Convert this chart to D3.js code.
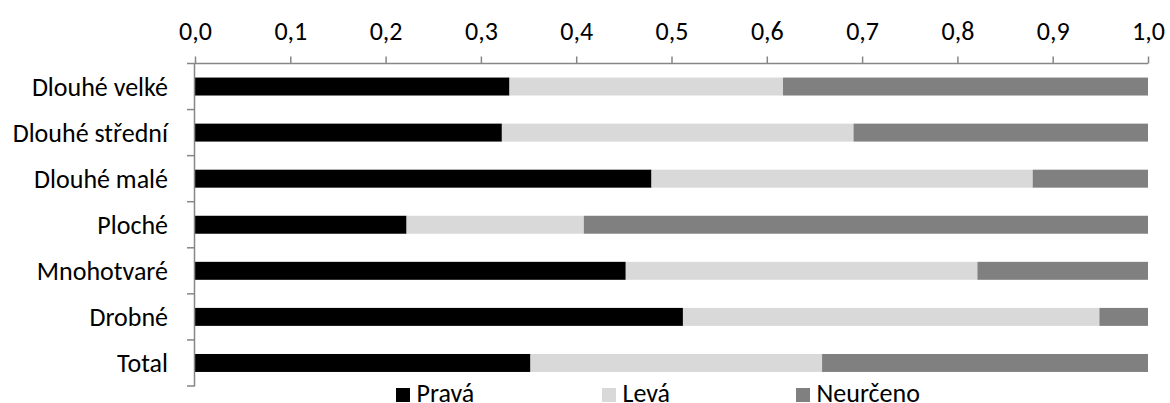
<!DOCTYPE html>
<html><head><meta charset="utf-8">
<script src="https://cdn.jsdelivr.net/npm/d3@7"></script>
<style>body{margin:0;background:#fff}svg{display:block}text{font-family:Carlito,Calibri,"Open Sans",sans-serif;fill:#000}</style>
</head><body><svg id="c" width="1170" height="403"></svg>
<script>
const categories = ["Dlouhé velké","Dlouhé střední","Dlouhé malé","Ploché","Mnohotvaré","Drobné","Total"];
const seriesNames = ["Pravá","Levá","Neurčeno"];
const prava =    [0.330, 0.322, 0.479, 0.222, 0.452, 0.512, 0.352];
const leva =     [0.287, 0.369, 0.400, 0.186, 0.369, 0.437, 0.306];
const neurceno = [0.383, 0.309, 0.121, 0.592, 0.179, 0.051, 0.342];
const xTicks = [0,0.1,0.2,0.3,0.4,0.5,0.6,0.7,0.8,0.9,1.0];
const colors = ["#000000","#d9d9d9","#808080"];

const rows = categories.map((c,i)=>({cat:c,"Pravá":prava[i],"Levá":leva[i],"Neurčeno":neurceno[i]}));
const stack = d3.stack().keys(seriesNames)(rows);

const svg = d3.select("#c");
const pLeft = 195, pRight = 1148, pTop = 63.5, pBottom = 386;
const fs = 26;
const x = d3.scaleLinear().domain([0,1]).range([pLeft,pRight]);
const y = d3.scaleBand().domain(categories).range([pTop,pBottom]).paddingInner(0.61).paddingOuter(0.305);
const color = d3.scaleOrdinal().domain(seriesNames).range(colors);

svg.append("g").selectAll("g").data(stack).join("g").attr("fill",d=>color(d.key))
  .selectAll("rect").data(d=>d).join("rect")
  .attr("x",d=>x(d[0])).attr("width",d=>x(d[1])-x(d[0]))
  .attr("y",d=>y(d.data.cat)).attr("height",y.bandwidth());

// top x axis
const xa = svg.append("g").attr("transform",`translate(0,${pTop})`)
  .call(d3.axisTop(x).tickValues(xTicks).tickSize(7).tickPadding(17)
     .tickFormat(d=>d3.format(".1f")(d).replace(".",",")));
xa.select(".domain").remove();
xa.append("line").attr("x1",pLeft-8).attr("x2",pRight).attr("stroke","#868686").attr("stroke-width",1.5);
xa.selectAll(".tick line").attr("stroke","#868686").attr("stroke-width",1.5);
xa.selectAll(".tick text").attr("font-size",fs).attr("font-family",'Carlito,Calibri,"Open Sans",sans-serif');

// left y axis
svg.append("line").attr("x1",pLeft-0.5).attr("x2",pLeft-0.5).attr("y1",pTop).attr("y2",pBottom)
  .attr("stroke","#868686").attr("stroke-width",1.5);
const bounds = d3.range(categories.length+1).map(i=>pTop + i*(pBottom-pTop)/categories.length);
svg.append("g").selectAll("line").data(bounds.slice(1)).join("line")
  .attr("x1",pLeft-8).attr("x2",pLeft).attr("y1",d=>d).attr("y2",d=>d)
  .attr("stroke","#868686").attr("stroke-width",1.5);
svg.append("g").selectAll("text").data(categories).join("text")
  .attr("x",168).attr("y",d=>y(d)+y.bandwidth()/2).attr("dy","0.35em")
  .attr("text-anchor","end").attr("font-size",fs).text(d=>d);

// legend
const legX = [396, 602, 796];
const lg = svg.append("g").selectAll("g").data(seriesNames).join("g")
  .attr("transform",(d,i)=>`translate(${legX[i]},388)`);
lg.append("rect").attr("width",14).attr("height",14).attr("fill",d=>color(d));
lg.append("text").attr("x",20.5).attr("y",14).attr("font-size",fs).text(d=>d);
</script></body></html>
